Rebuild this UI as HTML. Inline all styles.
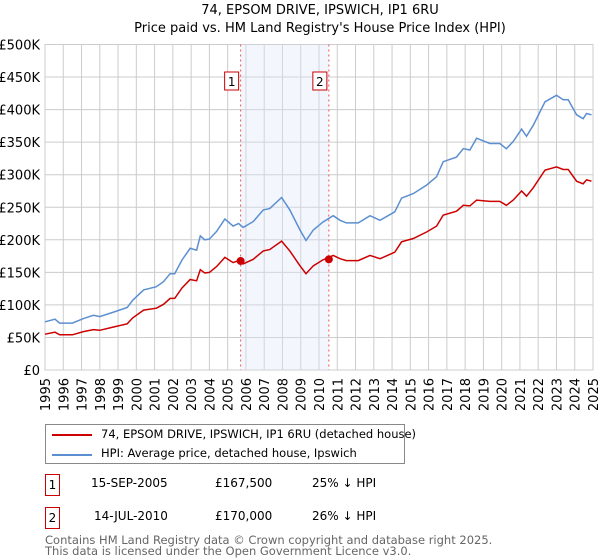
<!DOCTYPE html>
<html><head><meta charset="utf-8"><style>
body{margin:0;background:#fff;font-family:"DejaVu Sans","Liberation Sans",sans-serif;}
#wrap{position:relative;width:600px;height:560px;overflow:hidden;}
.t{position:absolute;font-size:12px;color:#000;white-space:nowrap;}
</style></head><body>
<div id="wrap">
<svg id="chart" width="600" height="410" style="position:absolute;left:0;top:0">
<text x="320" y="14" text-anchor="middle" font-size="13">74, EPSOM DRIVE, IPSWICH, IP1 6RU</text>
<text x="320" y="32" text-anchor="middle" font-size="13">Price paid vs. HM Land Registry's House Price Index (HPI)</text>
<g id="grid"></g><g id="shade"></g><g id="lines"></g><g id="axes"></g>
</svg>
<div style="position:absolute;left:45px;top:424px;width:358px;height:38px;border:1px solid #888;">
 <div style="position:absolute;left:6px;top:9px;width:40px;height:2px;background:#cc0000"></div>
 <div class="t" style="left:55px;top:2px;font-size:11.5px">74, EPSOM DRIVE, IPSWICH, IP1 6RU (detached house)</div>
 <div style="position:absolute;left:6px;top:29px;width:40px;height:2px;background:#5b8fd1"></div>
 <div class="t" style="left:55px;top:21px;font-size:11.5px">HPI: Average price, detached house, Ipswich</div>
</div>
<div style="position:absolute;left:45px;top:474px;width:13px;height:20px;border:1px solid #c00;font-size:12px;text-align:center;line-height:20px">1</div>
<div class="t" style="left:91px;top:476px">15-SEP-2005</div>
<div class="t" style="left:215px;top:476px">£167,500</div>
<div class="t" style="left:312px;top:476px">25% ↓ HPI</div>
<div style="position:absolute;left:45px;top:507px;width:13px;height:20px;border:1px solid #c00;font-size:12px;text-align:center;line-height:20px">2</div>
<div class="t" style="left:94px;top:509px">14-JUL-2010</div>
<div class="t" style="left:215px;top:509px">£170,000</div>
<div class="t" style="left:312px;top:509px">26% ↓ HPI</div>
<div class="t" style="left:45px;top:535px;color:#666;font-size:11.5px;line-height:11px">Contains HM Land Registry data © Crown copyright and database right 2025.<br>This data is licensed under the Open Government Licence v3.0.</div>
</div>
<script>
const years=[1995,1995.55,1995.8,1996.5,1997.1,1997.65,1998,1998.75,1999.5,1999.8,2000.4,2001.1,2001.5,2001.85,2002.1,2002.5,2002.95,2003.3,2003.5,2003.75,2004,2004.4,2004.85,2005.3,2005.6,2005.85,2006.4,2006.95,2007.3,2007.95,2008.4,2008.96,2009.29,2009.69,2010.2,2010.78,2011.15,2011.5,2012.15,2012.79,2013.34,2014.15,2014.52,2015.16,2015.89,2016.44,2016.8,2017.53,2017.9,2018.26,2018.63,2019.35,2019.9,2020.26,2020.63,2021.09,2021.36,2021.73,2022.37,2023.0,2023.37,2023.64,2024.1,2024.46,2024.65,2024.92];
const hpi=[74,78,72,72,79,84,82,89,96,107,123,128,136,148,148,169,187,184,206,200,201,213,232,221,225,219,228,246,248,265,246,215,199,215,227,237,230,226,226,237,230,243,264,271,284,297,320,327,340,338,356,348,348,340,351,370,359,376,412,422,415,415,392,386,394,392];
const price=[55,58,54,54,59,62,61,66,71,80,92,95,101,110,110,126,139,137,154,149,150,159,173,165,168,163,170,183,185,198,183,160,148,160,169,176,171,168,168,176,171,181,197,202,212,221,238,244,253,252,261,259,259,253,261,275,267,280,307,312,308,308,290,286,292,290];
const saleYears=[2005.71,2010.54];
const salePrices=[167.5,170];
const saleLabels=["1","2"];
const yTicks=[0,50,100,150,200,250,300,350,400,450,500];
const yTickLabels=["£0","£50K","£100K","£150K","£200K","£250K","£300K","£350K","£400K","£450K","£500K"];
const xTicks=[1995,1996,1997,1998,1999,2000,2001,2002,2003,2004,2005,2006,2007,2008,2009,2010,2011,2012,2013,2014,2015,2016,2017,2018,2019,2020,2021,2022,2023,2024,2025];
const NS="http://www.w3.org/2000/svg";
const X0=45,X1=593,Y0=370,Y1=44.5;
const xs=y=>X0+(y-1995)/30*(X1-X0);
const ys=v=>Y0-v/500*(Y0-Y1);
function mk(tag,attrs,parent){const e=document.createElementNS(NS,tag);for(const k in attrs)e.setAttribute(k,attrs[k]);parent.appendChild(e);return e;}
const grid=document.getElementById('grid'),shade=document.getElementById('shade'),lines=document.getElementById('lines'),axes=document.getElementById('axes');
yTicks.forEach((v,i)=>{
 const l=mk('line',{x1:X0,x2:X1,y1:ys(v),y2:ys(v),stroke:'#ccc','stroke-width':1},grid);
 
 
 const t=mk('text',{x:40,y:ys(v)+5,'text-anchor':'end','font-size':13},axes);
 t.textContent=yTickLabels[i];
 
 
});
xTicks.forEach(y=>{
 const l=mk('line',{x1:xs(y),x2:xs(y),y1:Y1,y2:Y0,stroke:'#ccc','stroke-width':1},grid);
 
 
 const t=mk('text',{x:0,y:0,'text-anchor':'end','font-size':13,transform:`translate(${xs(y)+5},${Y0+8}) rotate(-90)`},axes);
 t.textContent=y;
 
 
});
const sh=mk('rect',{x:xs(saleYears[0]),y:Y1,width:xs(saleYears[1])-xs(saleYears[0]),height:Y0-Y1,fill:'#dde6fa','fill-opacity':0.35},shade);


const border=mk('rect',{x:X0,y:Y1,width:X1-X0,height:Y0-Y1,fill:'none',stroke:'#ccc'},grid);


saleYears.forEach((y,i)=>{
 const l=mk('line',{x1:xs(y),x2:xs(y),y1:Y1,y2:Y0,stroke:'#e55','stroke-width':1,'stroke-dasharray':'2,3'},shade);
 
 
 const r=mk('rect',{x:xs(y)-16,y:72,width:14,height:18,fill:'#fff',stroke:'#c00'},lines);
 
 
 const t=mk('text',{x:xs(y)-9,y:86,'text-anchor':'middle','font-size':12},lines);
 t.textContent=saleLabels[i];
 
 
});
const path=arr=>arr.map((v,i)=>(i?'L':'M')+xs(years[i]).toFixed(1)+','+ys(v).toFixed(1)).join('');
const hp=mk('path',{d:path(hpi),fill:'none',stroke:'#5b8fd1','stroke-width':1.5},lines);


const pp=mk('path',{d:path(price),fill:'none',stroke:'#cc0000','stroke-width':1.5},lines);


saleYears.forEach((y,i)=>{
 const c=mk('circle',{cx:xs(y),cy:ys(salePrices[i]),r:4,fill:'#cc0000'},lines);
 
 
});
</script>
</body></html>
